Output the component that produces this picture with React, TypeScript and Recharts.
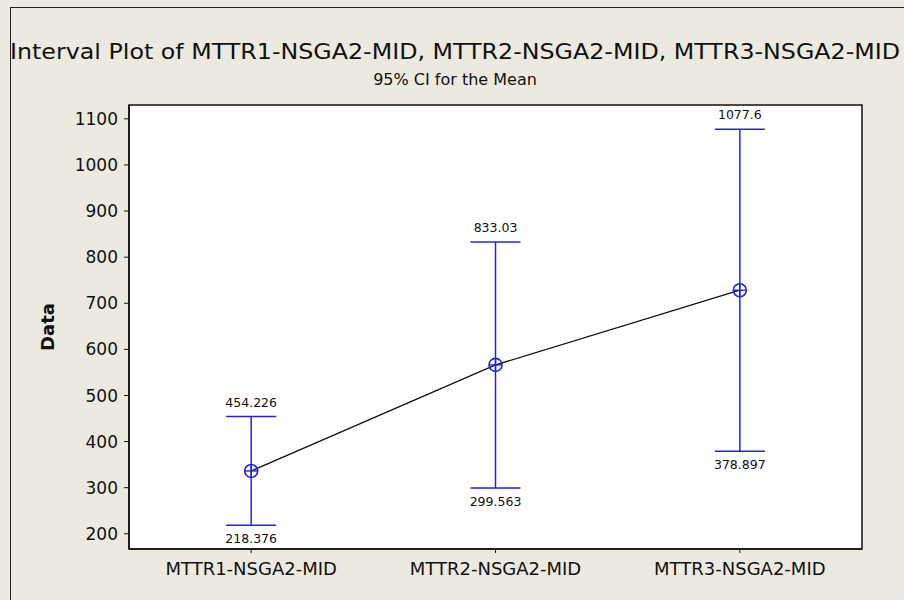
import {
  ComposedChart,
  Line,
  XAxis,
  YAxis,
  ErrorBar,
  LabelList,
  CartesianGrid,
  ReferenceArea,
  Customized,
} from "recharts";

// interval plot: means with 95% confidence intervals
export const groups = ["MTTR1-NSGA2-MID", "MTTR2-NSGA2-MID", "MTTR3-NSGA2-MID"];
export const lowerCI = [218.376, 299.563, 378.897];
export const upperCI = [454.226, 833.03, 1077.6];
export const means = [336.301, 566.297, 728.249];
export const yTicks = [200, 300, 400, 500, 600, 700, 800, 900, 1000, 1100];

const xDomain: [number, number] = [0.5, groups.length + 0.5];
const yDomain: [number, number] = [167, 1130];

const rows = groups.map((name, i) => ({
  pos: i + 1,
  name,
  mean: means[i],
  lower: lowerCI[i],
  upper: upperCI[i],
  err: [means[i] - lowerCI[i], upperCI[i] - means[i]],
}));

const BLUE = "#2424e0";
const FONT = "'DejaVu Sans', Verdana, sans-serif";

// circle with a cross through it, drawn at each mean
const MeanMarker = (props: any) => {
  const { cx, cy } = props;
  if (cx == null || cy == null) return null;
  const r = 6.5;
  return (
    <g>
      <circle cx={cx} cy={cy} r={r} fill="none" stroke={BLUE} strokeWidth={1.6} />
      <line x1={cx - r} y1={cy} x2={cx + r} y2={cy} stroke={BLUE} strokeWidth={1.4} />
      <line x1={cx} y1={cy - r} x2={cx} y2={cy + r} stroke={BLUE} strokeWidth={1.4} />
    </g>
  );
};

const Titles = () => (
  <g fontFamily={FONT} fill="#111">
    <text x={455} y={59} fontSize={22} textAnchor="middle" textLength={890} lengthAdjust="spacingAndGlyphs">
      Interval Plot of MTTR1-NSGA2-MID, MTTR2-NSGA2-MID, MTTR3-NSGA2-MID
    </text>
    <text x={455} y={85} fontSize={16} textAnchor="middle">
      95% CI for the Mean
    </text>
    <text
      x={47}
      y={327}
      fontSize={18}
      fontWeight="bold"
      textAnchor="middle"
      dominantBaseline="central"
      transform="rotate(-90, 47, 327)"
    >
      Data
    </text>
  </g>
);

export default function App() {
  return (
    <div
      style={{
        position: "absolute",
        left: 0,
        top: 0,
        width: 904,
        height: 600,
        background: "#ece9e0",
        overflow: "hidden",
      }}
    >
      <div
        style={{
          position: "absolute",
          left: 10,
          top: 7,
          right: -2,
          bottom: -2,
          borderLeft: "1.5px solid #222",
          borderTop: "1.5px solid #222",
        }}
      />
      <ComposedChart
        width={904}
        height={600}
        data={rows}
        margin={{ top: 105, right: 42, bottom: 0, left: 0 }}
        style={{ position: "absolute", left: 0, top: 0 }}
      >
        <CartesianGrid horizontal={false} vertical={false} fill="#fff" />
        <XAxis
          dataKey="pos"
          type="number"
          domain={xDomain}
          ticks={rows.map((r) => r.pos)}
          tickFormatter={(v: number) => groups[v - 1] ?? ""}
          height={51}
          axisLine={{ stroke: "#111", strokeWidth: 1.5 }}
          tickLine={{ stroke: "#111" }}
          tickSize={4}
          tickMargin={9}
          tick={{ fill: "#111", fontSize: 18, fontFamily: FONT }}
        />
        <YAxis
          width={129}
          domain={yDomain}
          ticks={yTicks}
          allowDataOverflow
          axisLine={{ stroke: "#111", strokeWidth: 1.5 }}
          tickLine={{ stroke: "#111" }}
          tickSize={5}
          tickMargin={6}
          tick={{ fill: "#111", fontSize: 17, fontFamily: FONT }}
        />
        {/* frame around the plot area */}
        <ReferenceArea
          x1={xDomain[0]}
          x2={xDomain[1]}
          y1={yDomain[0]}
          y2={yDomain[1]}
          fill="none"
          fillOpacity={0}
          stroke="#111"
          strokeWidth={1.5}
        />
        <Line
          dataKey="upper"
          stroke="none"
          dot={false}
          activeDot={false}
          isAnimationActive={false}
        >
          <LabelList dataKey="upper" position="top" offset={10} fontSize={12.5} fontFamily={FONT} fill="#111" />
        </Line>
        <Line
          dataKey="lower"
          stroke="none"
          dot={false}
          activeDot={false}
          isAnimationActive={false}
        >
          <LabelList dataKey="lower" position="bottom" offset={9} fontSize={12.5} fontFamily={FONT} fill="#111" />
        </Line>
        <Line
          dataKey="mean"
          type="linear"
          stroke="#111"
          strokeWidth={1.3}
          dot={<MeanMarker />}
          activeDot={false}
          isAnimationActive={false}
        >
          <ErrorBar dataKey="err" width={25} stroke={BLUE} strokeWidth={1.5} isAnimationActive={false} />
        </Line>
        <Customized component={Titles} />
      </ComposedChart>
    </div>
  );
}
